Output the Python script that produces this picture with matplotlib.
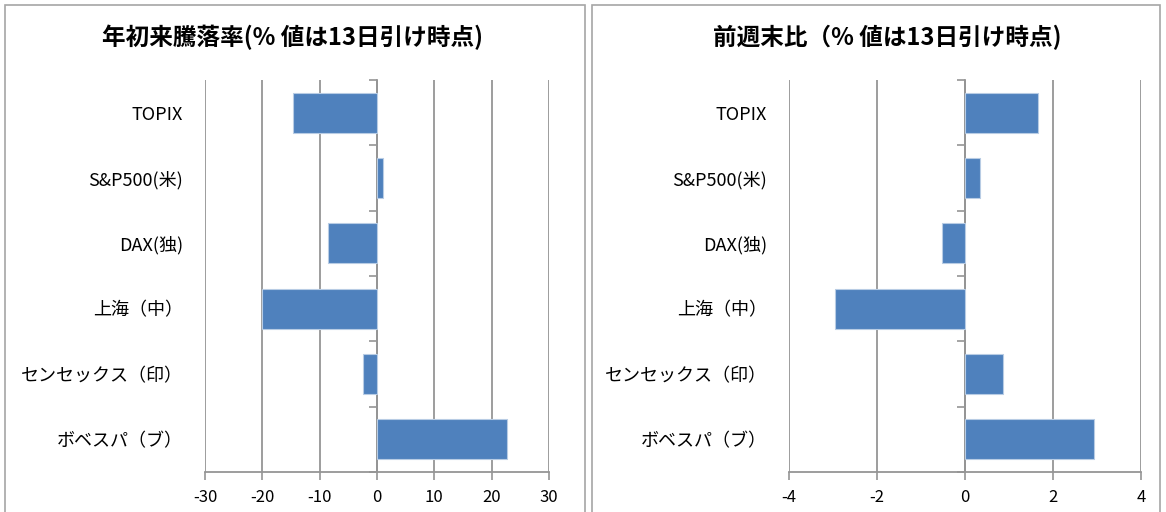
import matplotlib
matplotlib.use('Agg')
import matplotlib.pyplot as plt
from matplotlib.patches import Rectangle
from matplotlib.ticker import MultipleLocator, FixedLocator

plt.rcParams['font.family'] = ['Noto Sans CJK JP', 'DejaVu Sans']
plt.rcParams['axes.unicode_minus'] = False

# Datos (valores al cierre del día 13)
indices = ['TOPIX', 'S&P500(米)', 'DAX(独)', '上海（中）', 'センセックス（印）', 'ボベスパ（ブ）']
ytd = [-14.6, 1.0, -8.6, -20.1, -2.5, 22.6]
semana = [1.65, 0.33, -0.52, -2.96, 0.87, 2.94]

titulo_ytd = '年初来騰落率(% 値は13日引け時点)'
titulo_sem = '前週末比（% 値は13日引け時点)'

azul = '#4F81BD'
gris = '#959595'

fig = plt.figure(figsize=(11.66, 5.12), dpi=100)

# Marcos de cada panel (como en Excel)
for x0, x1 in [(5, 585), (592, 1160)]:
    fig.patches.append(Rectangle((x0 / 1166, -0.1), (x1 - x0) / 1166, 1.1 - 5 / 512,
                                 transform=fig.transFigure, fill=False,
                                 edgecolor='#A6A6A6', lw=1.2))


def panel(rect, valores, lim, paso, titulo, xt):
    ax = fig.add_axes(rect)
    pos = list(range(len(indices)))
    ax.barh(pos, valores, height=0.61, color=azul, edgecolor='#B8CCE4', lw=0.8, zorder=3)
    ax.set_ylim(len(indices) - 0.5, -0.5)
    ax.set_xlim(-lim, lim)
    ax.xaxis.set_major_locator(MultipleLocator(paso))
    ax.grid(axis='x', color=gris, lw=1.3, zorder=0)
    ax.set_yticks(pos)
    ax.set_yticklabels(indices, fontsize=13)
    ax.tick_params(axis='y', length=0, pad=16)
    ax.tick_params(axis='x', length=6, width=1.2, color=gris, labelsize=12, pad=6)
    for s in ['top', 'right', 'left']:
        ax.spines[s].set_visible(False)
    ax.spines['bottom'].set_color(gris)
    ax.spines['bottom'].set_linewidth(1.3)
    # eje vertical en cero con marcas entre categorías
    sec = ax.secondary_yaxis(0.5)
    sec.set_alignment('left')
    sec.yaxis.set_major_locator(FixedLocator([p - 0.5 for p in pos] + [len(indices) - 0.5]))
    sec.set_yticklabels([])
    sec.tick_params(length=6, width=1.2, color=gris, direction='out')
    for s in sec.spines.values():
        s.set_color(gris)
        s.set_linewidth(1.3)
    fig.text(xt, 0.927, titulo, ha='center', va='center', fontsize=17, fontweight='bold')
    return ax


panel([205 / 1166, 0.078125, 344 / 1166, 0.765625], ytd, 30, 10, titulo_ytd, 293 / 1166)
panel([789 / 1166, 0.078125, 352 / 1166, 0.765625], semana, 4, 2, titulo_sem, 887 / 1166)

fig.savefig('out.png', dpi=100)
